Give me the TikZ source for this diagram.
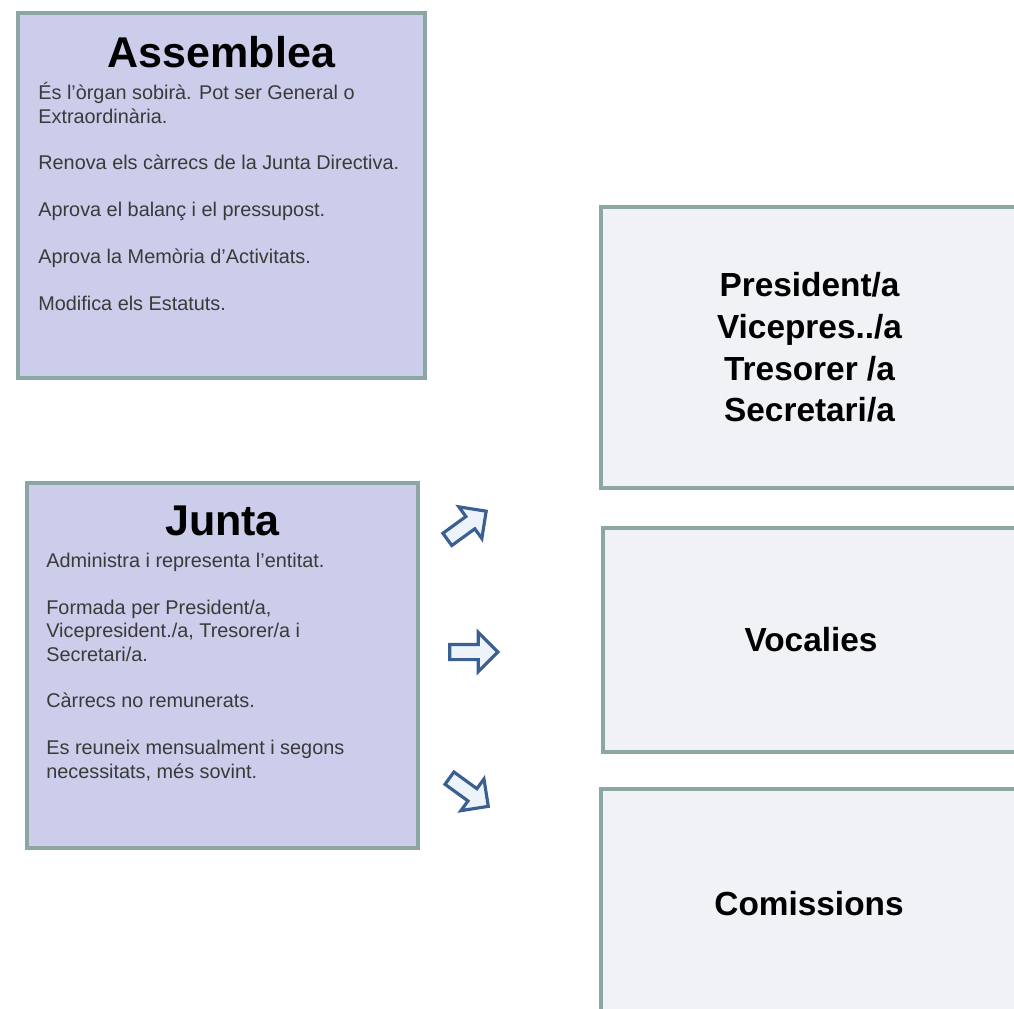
\documentclass[tikz,border=0pt]{standalone}
\usepackage{fontspec}
\setmainfont{Liberation Sans}
\usetikzlibrary{shapes.arrows}

\definecolor{boxedge}{HTML}{8CA6A4}
\definecolor{organfill}{HTML}{CCCCEB}
\definecolor{carrecfill}{HTML}{F1F2F6}
\definecolor{fletxaedge}{HTML}{3B5F92}
\definecolor{fletxafill}{HTML}{EDF3FA}
\definecolor{textgris}{HTML}{3A3A3A}

\begin{document}
\begin{tikzpicture}[x=0.02cm,y=-0.02cm,
  organ/.style={draw=boxedge,line width=2pt,fill=organfill,inner sep=0pt},
  carrec/.style={draw=boxedge,line width=2pt,fill=carrecfill,inner sep=0pt,
    font=\fontsize{19}{23.8}\selectfont\bfseries,align=center},
  titol/.style={font=\fontsize{24.5}{28}\selectfont\bfseries,anchor=base,inner sep=0pt},
  cos/.style={font=\fontsize{11.3}{13.3}\selectfont,text=textgris,anchor=base west,
    align=left,inner sep=0pt},
  fletxa/.style={single arrow,draw=fletxaedge,fill=fletxafill,line width=1.8pt,
    inner sep=0.12cm,single arrow head extend=0.24cm,minimum height=0.96cm}]
\useasboundingbox (0,0) rectangle (1014,1008);
\fill [white] (0,0) rectangle (1014,1008);

% organs de govern
\node [organ,minimum width=8.14cm,minimum height=7.3cm] (assemblea) at (221.5,195.5) {};
\node [titol] (assembleatitol) at (221.5,67) {Assemblea};
\node [cos] (assembleacos) at (38,310) {És l'òrgan sobirà. Pot ser General o\\
  Extraordinària.\\[13.3pt]
  Renova els càrrecs de la Junta Directiva.\\[13.3pt]
  Aprova el balanç i el pressupost.\\[13.3pt]
  Aprova la Memòria d’Activitats.\\[13.3pt]
  Modifica els Estatuts.};

\node [organ,minimum width=7.82cm,minimum height=7.3cm] (junta) at (222.5,665.5) {};
\node [titol] (juntatitol) at (222.5,535) {Junta};
\node [cos] (juntacos) at (46,778) {Administra i representa l’entitat.\\[13.3pt]
  Formada per President/a,\\
  Vicepresident./a, Tresorer/a i\\
  Secretari/a.\\[13.3pt]
  Càrrecs no remunerats.\\[13.3pt]
  Es reuneix mensualment i segons\\
  necessitats, més sovint.};

% carrecs
\node [carrec,minimum width=8.34cm,minimum height=5.62cm] (carrecs) at (809.5,347.5)
  {President/a\\Vicepres../a\\Tresorer /a\\Secretari/a};
\node [carrec,minimum width=8.32cm,minimum height=4.48cm] (vocalies) at (811,640) {Vocalies};
\node [carrec,minimum width=8.32cm,minimum height=4.6cm] (comissions) at (809,904) {Comissions};

% fletxes
\node [fletxa,rotate=36] (fletxadalt) at (463.7,527.5) {};
\node [fletxa] (fletxamig) at (470,652) {};
\node [fletxa,rotate=-36] (fletxabaix) at (465.8,790) {};
\end{tikzpicture}
\end{document}
